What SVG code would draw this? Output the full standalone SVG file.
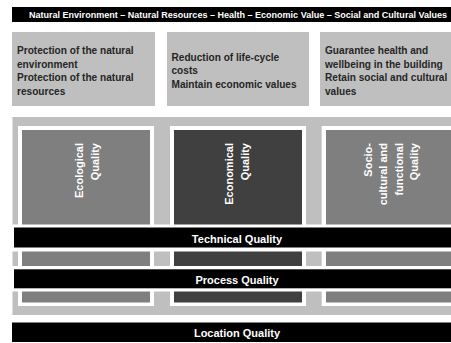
<svg xmlns="http://www.w3.org/2000/svg" width="451" height="343" viewBox="0 0 451 343">
<style>
.t{font-family:"Liberation Sans",Arial,sans-serif;font-weight:bold}
.box{fill:#bfbfbf}
.bt{font-size:10.1px;fill:#262626}
.bar{fill:#000}
.wt{fill:#fff}
.lbl{font-size:11px;fill:#fff;text-anchor:middle}
.vt{font-size:11px;fill:#fff;text-anchor:end}
.g1{fill:#7f7f7f}
.g2{fill:#404040}
</style>
<rect width="451" height="343" fill="#fff"/>
<g id="header">
<rect class="bar" x="12" y="7" width="445" height="15"/>
<text class="t" x="29" y="18" font-size="9" fill="#fff" textLength="418" lengthAdjust="spacingAndGlyphs">Natural Environment – Natural Resources – Health – Economic Value – Social and Cultural Values</text>
</g>
<g id="goal-ecological">
<rect class="box" x="12" y="32" width="143" height="74"/>
<text class="t bt" x="17" y="54">Protection of the natural</text>
<text class="t bt" x="17" y="67.5">environment</text>
<text class="t bt" x="17" y="81">Protection of the natural</text>
<text class="t bt" x="17" y="94.5">resources</text>
</g>
<g id="goal-economic">
<rect class="box" x="167" y="32" width="142" height="74"/>
<text class="t bt" x="171.5" y="60.5">Reduction of life-cycle</text>
<text class="t bt" x="171.5" y="74">costs</text>
<text class="t bt" x="171.5" y="87.5">Maintain economic values</text>
</g>
<g id="goal-social">
<rect class="box" x="320" y="32" width="140" height="74"/>
<text class="t bt" x="325" y="54">Guarantee health and</text>
<text class="t bt" x="325" y="67.5">wellbeing in the building</text>
<text class="t bt" x="325" y="81">Retain social and cultural</text>
<text class="t bt" x="325" y="94.5">values</text>
</g>
<g id="frame">
<rect class="box" x="12.5" y="117" width="445" height="198"/>
</g>
<g id="col-ecological">
<rect class="wt" x="18" y="126" width="136" height="180"/>
<rect class="g1" x="22" y="130" width="128" height="172.5"/>
<text class="t vt" transform="translate(83,143) rotate(-90)">Ecological</text>
<text class="t vt" transform="translate(98.5,143) rotate(-90)">Quality</text>
</g>
<g id="col-economical">
<rect class="wt" x="170" y="126" width="136" height="180"/>
<rect class="g2" x="174" y="130" width="128" height="172.5"/>
<text class="t vt" transform="translate(233,143) rotate(-90)">Economical</text>
<text class="t vt" transform="translate(248.5,143) rotate(-90)">Quality</text>
</g>
<g id="col-social">
<rect class="wt" x="321.7" y="126" width="140" height="180"/>
<rect class="g1" x="326" y="130" width="135" height="172.5"/>
<text class="t vt" transform="translate(371.5,143) rotate(-90)">Socio-</text>
<text class="t vt" transform="translate(387,143) rotate(-90)">cultural and</text>
<text class="t vt" transform="translate(402.5,143) rotate(-90)">functional</text>
<text class="t vt" transform="translate(418,143) rotate(-90)">Quality</text>
</g>
<g id="technical-quality">
<rect class="wt" x="12" y="224.5" width="445" height="27"/>
<rect class="bar" x="14" y="227.5" width="445" height="20"/>
<text class="t lbl" x="237" y="243">Technical Quality</text>
</g>
<g id="process-quality">
<rect class="wt" x="12" y="266" width="445" height="25.5"/>
<rect class="bar" x="14" y="269.3" width="445" height="19"/>
<text class="t lbl" x="237" y="284">Process Quality</text>
</g>
<g id="location-quality">
<rect class="bar" x="12" y="322.5" width="445" height="19.5"/>
<text class="t lbl" x="237" y="337">Location Quality</text>
</g>
</svg>
